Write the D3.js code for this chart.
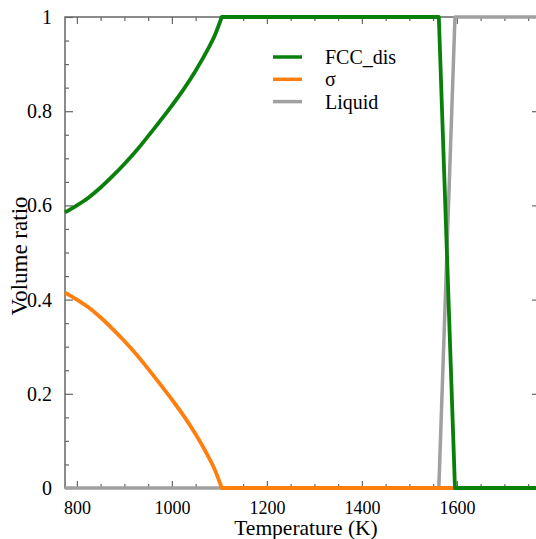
<!DOCTYPE html>
<html>
<head>
<meta charset="utf-8">
<script src="https://cdn.jsdelivr.net/npm/d3@7/dist/d3.min.js"></script>
<style>
  html, body { margin: 0; padding: 0; background: #fff; }
</style>
</head>
<body>
<svg id="chart" width="536" height="539" font-family="Liberation Serif"></svg>
<script>
// Phase volume ratios versus temperature
const temperatures = [775, 800, 825, 850, 875, 900, 925, 950, 975, 1000, 1025, 1050, 1075, 1090, 1105, 1200, 1300, 1400, 1500, 1562, 1596, 1650, 1700, 1775];
const fccDis = [0.585, 0.600, 0.617, 0.638, 0.662, 0.688, 0.716, 0.747, 0.779, 0.812, 0.847, 0.886, 0.930, 0.960, 1, 1, 1, 1, 1, 1, 0, 0, 0, 0];
const sigma  = [0.415, 0.400, 0.383, 0.362, 0.338, 0.312, 0.284, 0.253, 0.221, 0.188, 0.153, 0.114, 0.070, 0.040, 0, 0, 0, 0, 0, 0, 0, 0, 0, 0];
const liquid = [0, 0, 0, 0, 0, 0, 0, 0, 0, 0, 0, 0, 0, 0, 0, 0, 0, 0, 0, 0, 1, 1, 1, 1];

const phaseNames = ["FCC_dis", "σ", "Liquid"];
const phaseValues = [fccDis, sigma, liquid];
const phaseColors = ["#0a800a", "#ff7f0e", "#a0a0a0"];

const xTicks = [800, 1000, 1200, 1400, 1600];
const yTicks = [0, 0.2, 0.4, 0.6, 0.8, 1];
const yTickLabels = ["0", "0.2", "0.4", "0.6", "0.8", "1"];

const FONT = "Liberation Serif";

const svg = d3.select("#chart");
const plot = { left: 65, top: 17, right: 540, bottom: 488 };

const x = d3.scaleLinear().domain([775, 1775]).range([plot.left, plot.right]);
const y = d3.scaleLinear().domain([0, 1]).range([plot.bottom, plot.top]);

const axisColor = "#666";
const minorX = d3.range(800, 1776, 50).filter(v => !xTicks.includes(v));
const minorY = d3.range(0.05, 1, 0.05).map(v => +v.toFixed(2)).filter(v => !yTicks.includes(v));

// Frame with inward ticks on all four sides
const axes = svg.append("g");

function tickGroup(axisFn, scale, values, size, transform, withLabels, fontSize, labels) {
  const a = axisFn(scale).tickValues(values).tickSizeInner(-size).tickSizeOuter(0);
  if (withLabels) {
    a.tickPadding(size + (axisFn === d3.axisBottom ? 6 : 5));
    if (labels) a.tickFormat((d, i) => labels[i]);
    else a.tickFormat(d3.format("d"));
  } else {
    a.tickFormat("");
  }
  const g = axes.append("g").attr("transform", transform).call(a);
  g.attr("font-family", FONT).attr("font-size", fontSize || 10);
  g.select(".domain").remove();
  g.selectAll(".tick line").attr("stroke", axisColor).attr("stroke-width", 1.2);
  g.selectAll("text").attr("font-family", FONT);
  return g;
}

// bottom
tickGroup(d3.axisBottom, x, xTicks, 7, `translate(0,${plot.bottom})`, true, 18);
tickGroup(d3.axisBottom, x, minorX, 4, `translate(0,${plot.bottom})`, false);
// top
tickGroup(d3.axisTop, x, xTicks, 7, `translate(0,${plot.top})`, false);
tickGroup(d3.axisTop, x, minorX, 4, `translate(0,${plot.top})`, false);
// left
tickGroup(d3.axisLeft, y, yTicks, 8, `translate(${plot.left},0)`, true, 20, yTickLabels);
tickGroup(d3.axisLeft, y, minorY, 4, `translate(${plot.left},0)`, false);
// right
tickGroup(d3.axisRight, y, yTicks, 8, `translate(${plot.right},0)`, false);
tickGroup(d3.axisRight, y, minorY, 4, `translate(${plot.right},0)`, false);

axes.append("rect")
  .attr("x", plot.left).attr("y", plot.top)
  .attr("width", plot.right - plot.left).attr("height", plot.bottom - plot.top)
  .attr("fill", "none").attr("stroke", axisColor).attr("stroke-width", 1.5);

// Phase curves: smooth below the σ solvus, straight segments above it; Liquid first, FCC_dis on top
const smoothLine = d3.line().x(d => x(d[0])).y(d => y(d[1])).curve(d3.curveMonotoneX);
const straightLine = d3.line().x(d => x(d[0])).y(d => y(d[1]));
const solvusT = 1105;
const lines = svg.append("g");
[2, 1, 0].forEach(i => {
  const pts = temperatures.map((t, j) => [t, phaseValues[i][j]]);
  const low = pts.filter(p => p[0] <= solvusT);
  const high = pts.filter(p => p[0] >= solvusT);
  const d = smoothLine(low) + straightLine(high).replace(/^M/, "L");
  lines.append("path")
    .attr("d", d)
    .attr("fill", "none")
    .attr("stroke", phaseColors[i])
    .attr("stroke-width", i === 2 ? 3.5 : 3.8)
    .attr("stroke-linejoin", "round");
});

// Legend
const legend = svg.append("g");
phaseNames.forEach((name, i) => {
  const ly = 57 + i * 22.3;
  legend.append("line")
    .attr("x1", 273).attr("x2", 302).attr("y1", ly).attr("y2", ly)
    .attr("stroke", phaseColors[i]).attr("stroke-width", 3.5);
  legend.append("text")
    .attr("x", 325).attr("y", ly + 7)
    .attr("font-family", FONT)
    .attr("font-size", 20)
    .text(name);
});

// Axis titles
svg.append("text")
  .attr("x", 306).attr("y", 535)
  .attr("text-anchor", "middle")
  .attr("font-family", FONT)
  .attr("font-size", 21.5)
  .text("Temperature (K)");

svg.append("text")
  .attr("transform", "translate(27,256) rotate(-90)")
  .attr("text-anchor", "middle")
  .attr("font-family", FONT)
  .attr("font-size", 23)
  .text("Volume ratio");
</script>
</body>
</html>
